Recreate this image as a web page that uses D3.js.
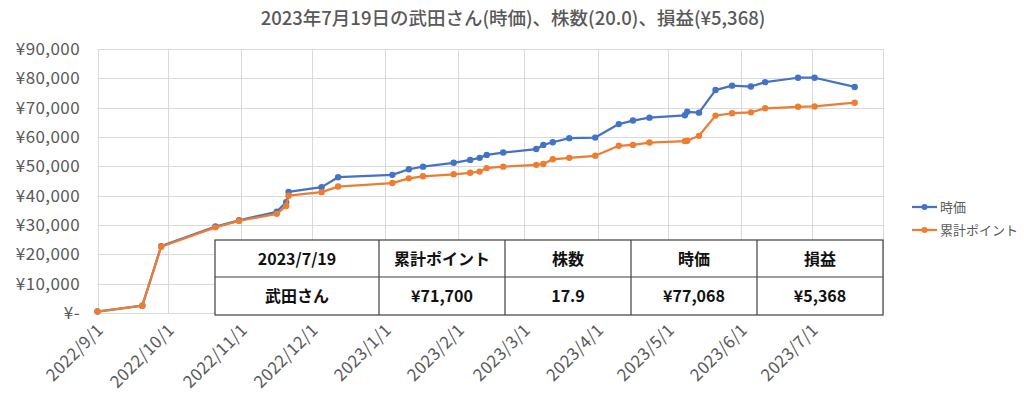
<!DOCTYPE html>
<meta charset="utf-8">
<script src="https://d3js.org/d3.v7.min.js"></script>
<style>
  body { margin: 0; background: #fff; }
  text { font-family: "Noto Sans CJK JP", "Noto Sans", sans-serif; }
</style>
<svg id="chart" width="1024" height="407"></svg>
<script>

// data
const dates = ["2022-09-01","2022-09-20","2022-09-28","2022-10-21","2022-10-31","2022-11-16","2022-11-20","2022-11-21",
  "2022-12-05","2022-12-12","2023-01-04","2023-01-11","2023-01-17","2023-01-30","2023-02-06","2023-02-10",
  "2023-02-13","2023-02-20","2023-03-06","2023-03-09","2023-03-13","2023-03-20","2023-03-31","2023-04-10",
  "2023-04-16","2023-04-23","2023-05-08","2023-05-09","2023-05-14","2023-05-21","2023-05-28","2023-06-05",
  "2023-06-11","2023-06-25","2023-07-02","2023-07-19"];
const price = [500,2500,22800,29500,31600,34500,37800,41300,42900,46300,47100,49000,49900,51200,52200,52900,
  53900,54700,55900,57300,58200,59600,59800,64400,65600,66600,67400,68600,68300,76000,77500,77200,
  78700,80200,80200,77068];
const points = [500,2500,22600,29200,31400,33800,36500,40000,41200,43100,44300,45900,46600,47300,47800,48200,
  49400,49900,50500,50800,52400,52900,53600,57000,57300,58100,58600,58700,60400,67300,68100,68400,
  69800,70300,70400,71700];
const seriesNames = ["時価", "累計ポイント"];
const yTicks = [0,10000,20000,30000,40000,50000,60000,70000,80000,90000];
const tableHead = ["2023/7/19", "累計ポイント", "株数", "時価", "損益"];
const tableRow = ["武田さん", "¥71,700", "17.9", "¥77,068", "¥5,368"];
const title = "2023年7月19日の武田さん(時価)、株数(20.0)、損益(¥5,368)";

const svg = d3.select("#chart");
const parse = d3.timeParse("%Y-%m-%d");
const dd = dates.map(parse);

const x = d3.scaleTime()
  .domain([parse("2022-09-01"), parse("2023-07-31")])
  .range([97.5, 883]);
const y = d3.scaleLinear()
  .domain([0, 90000])
  .range([313, 49]);

// title
svg.append("text")
  .attr("x", 513).attr("y", 25)
  .attr("text-anchor", "middle")
  .attr("font-size", 18.5)
  .attr("font-weight", 500)
  .attr("fill", "#595959")
  .text(title);

// gridlines
const grid = svg.append("g").attr("stroke", "#d9d9d9").attr("stroke-width", 1);
grid.selectAll(".h")
  .data(yTicks)
  .join("line")
    .attr("x1", 97.5).attr("x2", 883)
    .attr("y1", d => Math.round(y(d)) + 0.5)
    .attr("y2", d => Math.round(y(d)) + 0.5);
const months = x.ticks(d3.timeMonth.every(1));
grid.selectAll(".v")
  .data(months)
  .join("line")
    .attr("x1", d => Math.round(x(d)) + 0.5).attr("x2", d => Math.round(x(d)) + 0.5)
    .attr("y1", 49).attr("y2", 313);
grid.append("line")
  .attr("x1", 883.5).attr("x2", 883.5).attr("y1", 49).attr("y2", 313);

// y axis labels
const fmtY = d => d === 0 ? "¥-" : "¥" + d3.format(",")(d);
svg.append("g")
  .selectAll("text")
  .data(yTicks)
  .join("text")
    .attr("x", 80)
    .attr("y", d => y(d) + 6)
    .attr("text-anchor", "end")
    .attr("font-size", 17)
    .attr("letter-spacing", 0.4)
    .attr("fill", "#595959")
    .text(fmtY);

// x axis labels
const fmtX = d3.timeFormat("%Y/%-m/%-d");
svg.append("g")
  .selectAll("text")
  .data(months)
  .join("text")
    .attr("transform", d => `translate(${x(d) + 7}, ${331}) rotate(-45)`)
    .attr("text-anchor", "end")
    .attr("font-size", 17)
    .attr("letter-spacing", 0.3)
    .attr("fill", "#595959")
    .text(fmtX);

// lines
const colors = ["#4472c4", "#ed7d31"];
[price, points].forEach(function (vals, i) {
  const line = d3.line()
    .x((d, j) => x(dd[j]))
    .y(d => y(d));
  svg.append("path")
    .datum(vals)
    .attr("d", line)
    .attr("fill", "none")
    .attr("stroke", colors[i])
    .attr("stroke-width", 2.25)
    .attr("stroke-linejoin", "round");
  svg.append("g")
    .selectAll("circle")
    .data(vals)
    .join("circle")
      .attr("cx", (d, j) => x(dd[j]))
      .attr("cy", d => y(d))
      .attr("r", 3.2)
      .attr("fill", colors[i]);
});

// table
const colX = [215, 379, 505, 631, 757, 883];
const rowY = [240, 277, 315];
const tbl = svg.append("g");
tbl.append("rect")
  .attr("x", colX[0]).attr("y", rowY[0])
  .attr("width", colX[5] - colX[0]).attr("height", rowY[2] - rowY[0])
  .attr("fill", "#fff").attr("stroke", "#404040").attr("stroke-width", 1.2);
tbl.append("line")
  .attr("x1", colX[0]).attr("x2", colX[5]).attr("y1", rowY[1]).attr("y2", rowY[1])
  .attr("stroke", "#404040").attr("stroke-width", 1.2);
colX.slice(1, 5).forEach(function (cx) {
  tbl.append("line")
    .attr("x1", cx).attr("x2", cx).attr("y1", rowY[0]).attr("y2", rowY[2])
    .attr("stroke", "#404040").attr("stroke-width", 1.2);
});
[tableHead, tableRow].forEach(function (row, r) {
  tbl.selectAll(".r" + r)
    .data(row)
    .join("text")
      .attr("x", (d, i) => (colX[i] + colX[i + 1]) / 2)
      .attr("y", (rowY[r] + rowY[r + 1]) / 2 + 6)
      .attr("text-anchor", "middle")
      .attr("font-size", 16)
      .attr("font-weight", "bold")
      .attr("fill", "#111")
      .text(d => d);
});

// legend
const leg = svg.append("g");
seriesNames.forEach(function (name, i) {
  const ly = 207 + i * 23;
  leg.append("line")
    .attr("x1", 912).attr("x2", 937).attr("y1", ly).attr("y2", ly)
    .attr("stroke", colors[i]).attr("stroke-width", 2.25);
  leg.append("circle")
    .attr("cx", 924.5).attr("cy", ly).attr("r", 3).attr("fill", colors[i]);
  leg.append("text")
    .attr("x", 940).attr("y", ly + 5)
    .attr("font-size", 13)
    .attr("fill", "#595959")
    .text(name);
});
</script>
